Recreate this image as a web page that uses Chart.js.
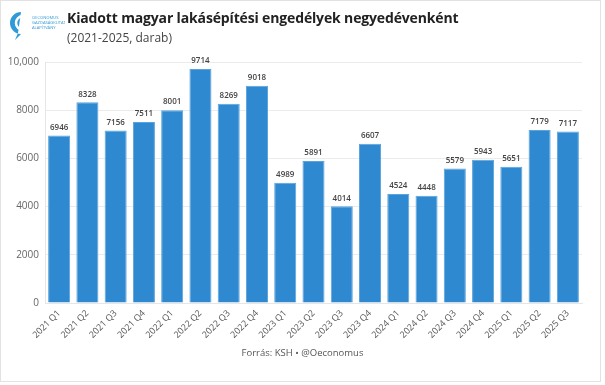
<!DOCTYPE html>
<html>
<head>
<meta charset="utf-8">
<script src="https://cdn.jsdelivr.net/npm/chart.js@4.4.1/dist/chart.umd.min.js"></script>
<style>
  html,body{margin:0;padding:0;background:#fff;}
  #wrap{position:relative;width:605px;height:385px;overflow:hidden;font-family:"Open Sans",sans-serif;}
  #frame{position:absolute;left:0;top:0;width:601px;height:382px;border:1px solid #e2e2e2;box-sizing:border-box;pointer-events:none;}
  #title{position:absolute;left:67px;top:8px;font-size:14px;font-weight:700;color:#222;white-space:nowrap;letter-spacing:-0.15px;}
  #subtitle{position:absolute;left:67px;top:29px;font-size:12px;color:#444;white-space:nowrap;}
  #footer{position:absolute;left:0;width:605px;top:346px;text-align:center;font-size:9.5px;color:#555;}
  #logo{position:absolute;left:9px;top:10px;}
  canvas{position:absolute;left:0;top:0;}
</style>
</head>
<body>
<div id="wrap">
  <canvas id="c" width="605" height="385"></canvas>
  <svg id="logo" width="56" height="32" viewBox="0 0 56 32">
    <path d="M12 2 A11 11 0 1 0 12 24 L6 30 L9 23 Z" fill="#2f9ad8"/>
    <path d="M14 6 A7 7 0 1 0 14 20" stroke="#fff" stroke-width="2.5" fill="none"/>
    <rect x="11" y="11" width="2" height="8" fill="#fff"/>
    <rect x="14" y="8" width="2" height="11" fill="#fff"/>
    <text x="23" y="9" font-size="4.1" fill="#2f9ad8" font-family="Open Sans">OECONOMUS</text>
    <text x="23" y="14" font-size="4.1" fill="#2f9ad8" font-family="Open Sans">GAZDASÁGKUTATÓ</text>
    <text x="23" y="19" font-size="4.1" fill="#2f9ad8" font-family="Open Sans">ALAPÍTVÁNY</text>
  </svg>
  <div id="title">Kiadott magyar lakásépítési engedélyek negyedévenként</div>
  <div id="subtitle">(2021-2025, darab)</div>
  <div id="footer">Forrás: KSH • @Oeconomus</div>
  <div id="frame"></div>
</div>
<script>
const categories = ["2021 Q1","2021 Q2","2021 Q3","2021 Q4","2022 Q1","2022 Q2","2022 Q3","2022 Q4","2023 Q1","2023 Q2","2023 Q3","2023 Q4","2024 Q1","2024 Q2","2024 Q3","2024 Q4","2025 Q1","2025 Q2","2025 Q3"];
const permits = [6946,8328,7156,7511,8001,9714,8269,9018,4989,5891,4014,6607,4524,4448,5579,5943,5651,7179,7117];
const yTickLabels = {0:"0",2000:"2000",4000:"4000",6000:"6000",8000:"8000",10000:"10,000"};

const valueLabels = {
  id: 'valueLabels',
  afterDatasetsDraw(chart) {
    const ctx = chart.ctx;
    const meta = chart.getDatasetMeta(0);
    ctx.save();
    ctx.font = '600 8px "Open Sans"';
    ctx.fillStyle = '#444';
    ctx.textAlign = 'center';
    ctx.textBaseline = 'bottom';
    meta.data.forEach((bar, i) => {
      ctx.fillText(String(chart.data.datasets[0].data[i]), bar.x, bar.y - 4);
    });
    ctx.restore();
  }
};

new Chart(document.getElementById('c'), {
  type: 'bar',
  data: {
    labels: categories,
    datasets: [{
      data: permits,
      backgroundColor: '#2f89d0',
      borderColor: '#5aa3dc',
      borderWidth: 1,
      categoryPercentage: 0.78,
      barPercentage: 1.0
    }]
  },
  options: {
    responsive: false,
    animation: false,
    devicePixelRatio: 1,
    layout: { padding: { left: 0, right: 23, top: 62, bottom: 0 } },
    plugins: { legend: { display: false }, tooltip: { enabled: false } },
    scales: {
      x: {
        grid: { display: false, drawTicks: false },
        border: { display: true, color: '#e6e6e6' },
        ticks: {
          color: '#555',
          font: { family: 'Open Sans', size: 9 },
          maxRotation: 45, minRotation: 45,
          padding: 5,
          autoSkip: false
        },
        afterFit(scale) { scale.height = 82; }
      },
      y: {
        min: 0, max: 10000,
        grid: { color: '#ebebeb', drawTicks: false },
        border: { display: true, color: '#e6e6e6' },
        ticks: {
          stepSize: 2000,
          color: '#666',
          font: { family: 'Open Sans', size: 10 },
          padding: 6,
          callback: (v) => yTickLabels[v] !== undefined ? yTickLabels[v] : ''
        },
        afterFit(scale) { scale.width = 45; }
      }
    }
  },
  plugins: [valueLabels]
});
</script>
</body>
</html>
